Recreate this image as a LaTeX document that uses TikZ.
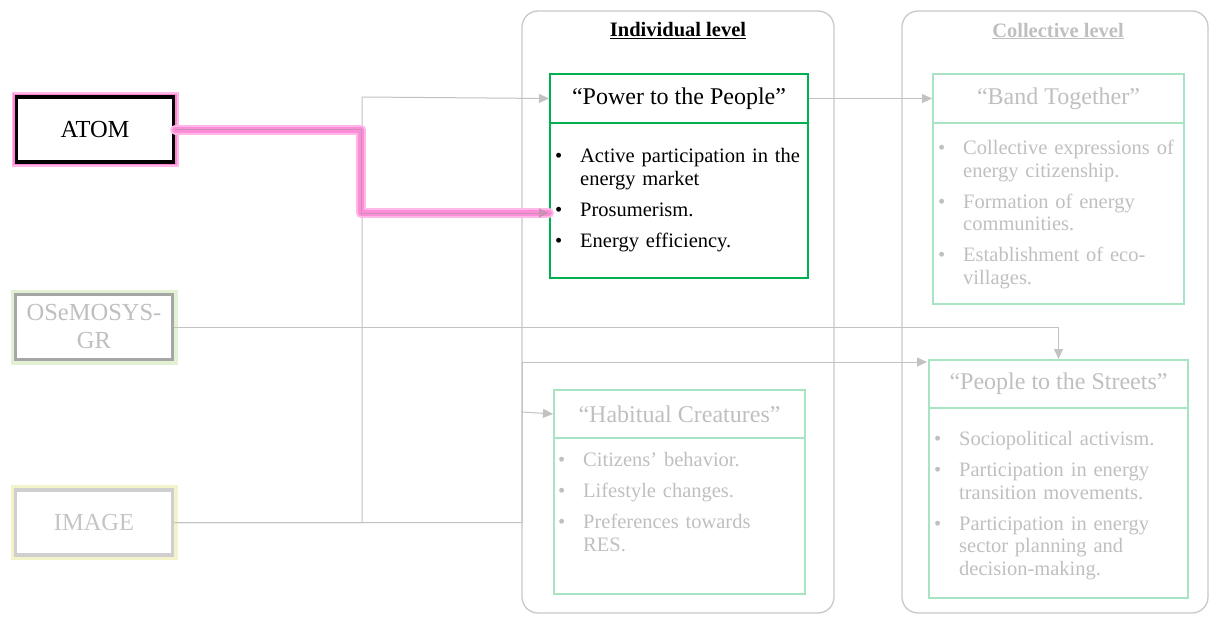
\documentclass[tikz,border=0pt]{standalone}
\usepackage{fontspec}
\setmainfont{Liberation Serif}
\usetikzlibrary{arrows.meta,calc}

\definecolor{strongGreen}{HTML}{00B050}
\definecolor{paleGreen}{HTML}{A8E4C4}
\definecolor{fadeText}{HTML}{BFBFBF}
\definecolor{connGrey}{HTML}{C2C2C2}
\definecolor{frameGrey}{HTML}{C8C8C8}
\definecolor{glowPink}{HTML}{FF66CC}
\definecolor{glowPinkLight}{HTML}{FFB8E8}
\definecolor{tipPink}{HTML}{C890B4}
\definecolor{osemBorder}{HTML}{A6A6A6}
\definecolor{osemGlow}{HTML}{E2F0D4}
\definecolor{imgBorder}{HTML}{CFCFCF}
\definecolor{imgGlow}{HTML}{F4F2C8}

% bullet item with hanging indent; \nl breaks keep the indent
\newcommand\nl{\hfil\break}
\newcommand\bitem[1]{\par\hangindent=25pt\hangafter=1\noindent
  \makebox[25pt][l]{\textbullet}\strut#1\strut\par}
\newcommand\blist[1]{\setlength{\parskip}{8.5pt}\vspace*{-8.5pt}#1}

\tikzset{
  x=1pt, y=-1pt,
  srcbox/.style={draw, line width=3.5pt, fill=white, minimum width=157pt,
    minimum height=65pt, inner sep=0pt, align=center,
    font=\fontsize{24.5}{28}\selectfont},
  atombox/.style={srcbox, draw=black, text=black,
    preaction={draw=glowPinkLight, line width=10pt},
    preaction={draw=glowPink!80, line width=6.5pt}},
  osembox/.style={srcbox, draw=osemBorder, text=fadeText,
    preaction={draw=osemGlow, line width=10pt}},
  imgbox/.style={srcbox, draw=imgBorder, text=fadeText!90,
    preaction={draw=imgGlow, line width=10pt}},
  levelframe/.style={draw=frameGrey, line width=1.3pt, rounded corners=16pt},
  leveltitle/.style={font=\fontsize{20.5}{24}\selectfont\bfseries},
  headbox/.style={draw, line width=2pt, anchor=north west, inner sep=0pt,
    font=\fontsize{24}{28}\selectfont},
  bodybox/.style={draw, line width=2pt, anchor=north west, inner sep=0pt},
  listtext/.style={anchor=north west, inner sep=0pt, text width=262pt,
    font=\fontsize{20.5}{22.5}\selectfont},
  conn/.style={draw=connGrey, line width=1pt},
  tip/.style={-{Triangle[length=10pt,width=9pt]}},
}

\begin{document}
\begin{tikzpicture}
\useasboundingbox (0,0) rectangle (1209,616);

% level frames
\draw[levelframe] (522,11) rectangle (834,613);
\draw[levelframe] (902,11) rectangle (1208,613);
\node[leveltitle, text=black] (indtitle) at (678,31) {\underline{Individual level}};
\node[leveltitle, text=fadeText] (coltitle) at (1058,31) {\underline{Collective level}};

% model boxes
\node[atombox] (atom) at (95,129.5) {ATOM};
\node[osembox] (osem) at (94,327) {OSeMOSYS-\\GR};
\node[imgbox] (image) at (94,522.5) {IMAGE};

% Power to the People
\node[bodybox, draw=strongGreen, minimum width=258pt, minimum height=155pt]
  (powerb) at (549,122) {};
\node[headbox, draw=strongGreen, text=black, minimum width=258pt, minimum height=49pt]
  (power) at (549,73) {“Power to the People”};
\node[listtext, text=black] (powert) at ($(powerb.north west)+(6,18)$) {\blist{%
  \bitem{Active participation in the\nl energy market}%
  \bitem{Prosumerism.}%
  \bitem{Energy efficiency.}}};

% Band Together
\node[bodybox, draw=paleGreen, minimum width=251pt, minimum height=181pt]
  (bandb) at (932,122) {};
\node[headbox, draw=paleGreen, text=fadeText, minimum width=251pt, minimum height=49pt]
  (band) at (932,73) {“Band Together”};
\node[listtext, text=fadeText] (bandt) at ($(bandb.north west)+(6,10)$) {\blist{%
  \bitem{Collective expressions of\nl energy citizenship.}%
  \bitem{Formation of energy\nl communities.}%
  \bitem{Establishment of eco-\nl villages.}}};

% Habitual Creatures
\node[bodybox, draw=paleGreen, minimum width=251pt, minimum height=156pt]
  (habitb) at (553,437) {};
\node[headbox, draw=paleGreen, text=fadeText, minimum width=251pt, minimum height=48pt]
  (habit) at (553,389) {“Habitual Creatures”};
\node[listtext, text=fadeText] (habitt) at ($(habitb.north west)+(5,7)$) {\blist{%
  \bitem{Citizens’ behavior.}%
  \bitem{Lifestyle changes.}%
  \bitem{Preferences towards\nl RES.}}};

% People to the Streets
\node[bodybox, draw=paleGreen, minimum width=259pt, minimum height=190pt]
  (streetsb) at (928,407) {};
\node[headbox, draw=paleGreen, text=fadeText, minimum width=259pt, minimum height=48pt]
  (streets) at (928,359) {“People to the Streets”};
\node[listtext, text=fadeText] (streetst) at ($(streetsb.north west)+(6,16)$) {\blist{%
  \bitem{Sociopolitical activism.}%
  \bitem{Participation in energy\nl transition movements.}%
  \bitem{Participation in energy\nl sector planning and\nl decision-making.}}};

% junction points of the connectors
\coordinate (trunkA) at (362,97);
\coordinate (trunkB) at (522,412);
\coordinate (streetsIn) at (927,362);
\coordinate (atomBend) at (361,213);
\coordinate (prosIn) at ($(powerb.north west)+(0,91)$);

% grey connectors
\draw[conn, tip] (image.east) -| (trunkA) -- (power.west);
\draw[conn, tip] (image.east) -| (trunkB) -- (habit.west);
\draw[conn, tip] (trunkB) |- (streetsIn);
\draw[conn, tip] (osem.east) -| (streets.north);
\draw[conn, tip] (power.east) -- (band.west);

% highlighted ATOM connector with its glow
\draw[glowPinkLight, line width=10pt, line join=round, line cap=round]
  (atom.east) -| (atomBend) -- (prosIn);
\draw[glowPink!75, line width=6pt, line join=round, line cap=round]
  (atom.east) -| (atomBend) -- (prosIn);
\draw[draw=tipPink, line width=1pt, tip]
  (atom.east) -| (atomBend) -- (prosIn);
\end{tikzpicture}
\end{document}
